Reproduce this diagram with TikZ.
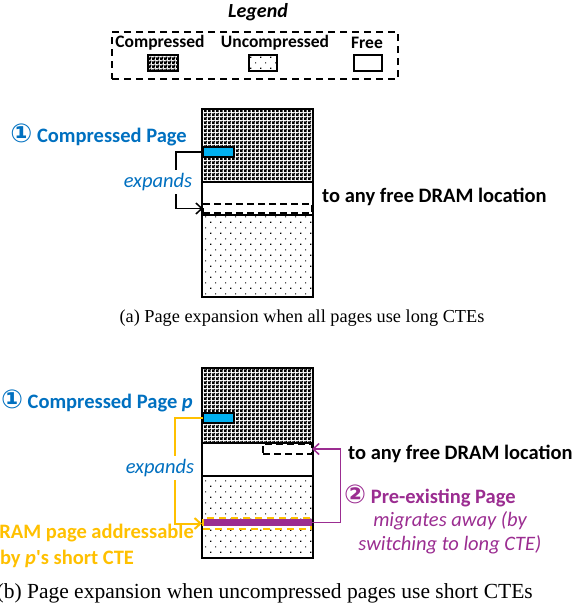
\documentclass[tikz,border=0pt]{standalone}
\usepackage{fontspec}
\setmainfont{Liberation Serif}
\newfontfamily\calfont{Carlito}
\newfontfamily\symfont{DejaVu Sans}
\usetikzlibrary{arrows.meta,patterns}
\definecolor{cblue}{HTML}{0070C0}
\definecolor{lblue}{HTML}{00B0F0}
\definecolor{cyel}{HTML}{FFC000}
\definecolor{cpur}{RGB}{155,45,145}
\pgfdeclarepatternformonly{sparsedots}{\pgfqpoint{-1pt}{-1pt}}{\pgfqpoint{11pt}{12pt}}{\pgfqpoint{10pt}{11pt}}{%
  \pgfpathrectangle{\pgfqpoint{0pt}{0pt}}{\pgfqpoint{1.3pt}{1.3pt}}%
  \pgfpathrectangle{\pgfqpoint{5pt}{5.5pt}}{\pgfqpoint{1pt}{1pt}}%
  \pgfusepath{fill}}
\pgfdeclarepatternformonly{densechk}{\pgfqpoint{0pt}{0pt}}{\pgfqpoint{4pt}{4pt}}{\pgfqpoint{4pt}{4pt}}{%
  \pgfpathrectangle{\pgfqpoint{0pt}{0pt}}{\pgfqpoint{2.2pt}{2.2pt}}%
  \pgfpathrectangle{\pgfqpoint{2pt}{2pt}}{\pgfqpoint{2pt}{2pt}}%
  \pgfpathrectangle{\pgfqpoint{0.5pt}{2.5pt}}{\pgfqpoint{1pt}{1pt}}%
  \pgfpathrectangle{\pgfqpoint{2.5pt}{0.5pt}}{\pgfqpoint{1pt}{1pt}}%
  \pgfusepath{fill}}
\newcommand{\bigsz}{\fontsize{20.5}{24}\selectfont}
\newcommand{\circnum}[1]{{\symfont\fontsize{26}{24}\selectfont #1}}
\begin{document}
\begin{tikzpicture}[x=1pt,y=-1pt,
  region/.style={draw, line width=2pt, inner sep=0pt, outer sep=0pt, anchor=north west},
  compreg/.style={region, pattern=densechk},
  uncreg/.style={region, pattern=sparsedots},
  freereg/.style={region, fill=white},
  bluebox/.style={draw, line width=1.5pt, fill=lblue, inner sep=0pt, outer sep=0pt, anchor=north west, minimum width=31pt, minimum height=10pt},
  dbox/.style={draw, line width=1.5pt, dash pattern=on 7pt off 4pt, inner sep=0pt, outer sep=0pt, anchor=north west},
  lbl/.style={font=\calfont\bfseries\bigsz, inner sep=0pt},
  itl/.style={font=\calfont\itshape\bigsz, inner sep=0pt},
  leglbl/.style={font=\calfont\bfseries\fontsize{17.5}{20}\selectfont, inner sep=0pt},
  swatch/.style={draw, line width=2pt, inner sep=0pt, anchor=north west, minimum width=28pt, minimum height=16pt},
  captext/.style={font=\fontsize{18.3}{22}\selectfont, inner sep=0pt},
  arr/.style={-{Straight Barb[length=6pt,width=11pt]}},
  gapnode/.style={itl, fill=white, inner ysep=3pt, inner xsep=1pt, text=cblue}
]
\useasboundingbox (0,0) rectangle (576,608);

% Legend
\node[font=\calfont\bfseries\itshape\fontsize{20}{24}\selectfont, inner sep=0pt] (legtitle) at (258,12) {Legend};
\node[draw, line width=2pt, dash pattern=on 7pt off 5pt, inner sep=0pt, anchor=north west, minimum width=286pt, minimum height=47pt] (legbox) at (111,31) {};
\node[leglbl] (lgc) at (160,43) {Compressed};
\node[leglbl] (lgu) at (275,43) {Uncompressed};
\node[leglbl] (lgf) at (367,43) {Free};
\node[swatch, pattern=densechk, minimum width=30pt] (swc) at (147,54) {};
\node[swatch, pattern=sparsedots] (swu) at (248,54) {};
\node[swatch, fill=white] (swf) at (353,54) {};

% (a)
\node[compreg, minimum width=111pt, minimum height=73pt] (compa) at (202,109) {};
\node[freereg, minimum width=111pt, minimum height=33pt] (freea) at (202,182) {};
\node[uncreg, minimum width=111pt, minimum height=82pt] (unca) at (202,215) {};
\node[bluebox] (bluea) at (203,147) {};
\node[dbox, minimum width=109pt, minimum height=9pt] (dasha) at (203,204) {};
\draw[line width=1.5pt, arr] (bluea.west) -- ++(-27,0) |- (dasha.west);
\node[gapnode] (expa) at (158,182) {expands};
\node[lbl, text=cblue, anchor=east] (titlea) at (187,135) {\circnum{①} Compressed Page};
\node[lbl, anchor=west] (freelocA) at (322,197) {to any free DRAM location};
\node[captext] (capa) at (302,318) {(a) Page expansion when all pages use long CTEs};

% (b)
\node[compreg, minimum width=111pt, minimum height=75pt] (compb) at (202,368) {};
\node[freereg, minimum width=111pt, minimum height=33pt] (freeb) at (202,443) {};
\node[uncreg, minimum width=111pt, minimum height=82pt] (uncb) at (202,476) {};
\node[bluebox] (blueb) at (203,413) {};
\node[dbox, minimum width=49pt, minimum height=10pt] (dashb) at (263,444) {};
\node[draw=cyel, line width=2pt, dash pattern=on 7pt off 5pt, inner sep=0pt, anchor=north west, minimum width=108pt, minimum height=11pt] (ydash) at (202,517) {};
\node[fill=cpur, inner sep=0pt, anchor=north west, minimum width=108pt, minimum height=7pt] (pbar) at (204,519) {};
\draw[cyel, line width=2pt, arr] (blueb.west) -- ++(-28,0) |- (ydash.west);
\node[gapnode] (expb) at (160,468) {expands};
\draw[cpur, line width=1.5pt, arr] (pbar.east) -- ++(28,0) |- (dashb.east);
\node[lbl, text=cblue, anchor=east] (titleb) at (193,401) {\circnum{①} Compressed Page \textit{p}};
\node[lbl, anchor=west] (freelocB) at (348,454) {to any free DRAM location};
\node[lbl, text=cpur, anchor=west] (preex) at (344,496) {\circnum{②} Pre-existing Page};
\node[itl, text=cpur] (migr1) at (450,521) {migrates away (by};
\node[itl, text=cpur] (migr2) at (450,545) {switching to long CTE)};
\node[lbl, text=cyel, anchor=east] (addr1) at (194,533) {DRAM page addressable};
\node[lbl, text=cyel] (addr2) at (67,559) {by \textit{p}'s short CTE};
\node[font=\fontsize{21.5}{24}\selectfont, inner sep=0pt, anchor=east] (capb) at (533,593) {(b) Page expansion when uncompressed pages use short CTEs};
\end{tikzpicture}
\end{document}
